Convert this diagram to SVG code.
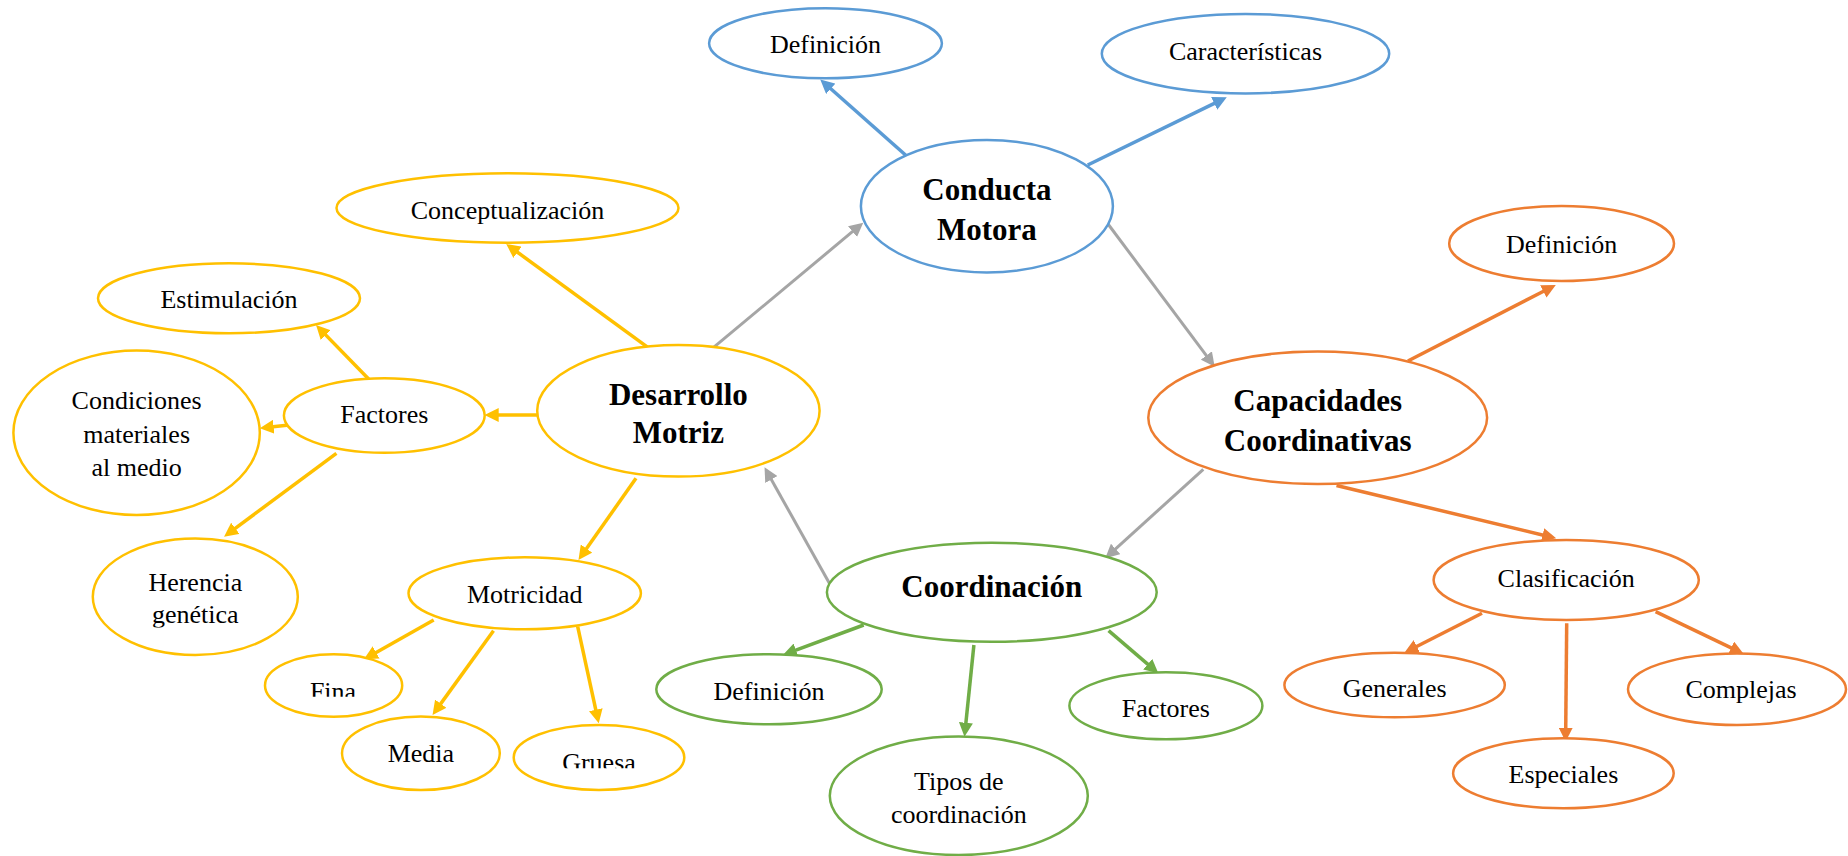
<svg xmlns="http://www.w3.org/2000/svg" width="1848" height="856" viewBox="0 0 1848 856">
<style>
.n{fill:#fff;stroke-width:2.5}
.b{stroke:#5B9BD5}.y{stroke:#FFC000}.g{stroke:#70AD47}.o{stroke:#ED7D31}
.t{font-family:"Liberation Serif","Times New Roman",serif;font-size:26px;fill:#000;text-anchor:middle}
.tb{font-family:"Liberation Serif","Times New Roman",serif;font-size:31px;font-weight:bold;fill:#000;text-anchor:middle}
.c{fill:none;stroke-width:3.5}
.cb{stroke:#5B9BD5;marker-end:url(#mb)}
.cy{stroke:#FFC000;marker-end:url(#my)}
.cg{stroke:#70AD47;marker-end:url(#mg)}
.co{stroke:#ED7D31;marker-end:url(#mo)}
.cx{stroke:#A5A5A5;stroke-width:3;marker-end:url(#mx)}
</style>
<defs>
<marker id="mb" viewBox="0 0 14 14" refX="3" refY="7" markerWidth="14" markerHeight="14" markerUnits="userSpaceOnUse" orient="auto"><path d="M0,0L14,7L0,14z" fill="#5B9BD5"/></marker>
<marker id="my" viewBox="0 0 14 14" refX="3" refY="7" markerWidth="14" markerHeight="14" markerUnits="userSpaceOnUse" orient="auto"><path d="M0,0L14,7L0,14z" fill="#FFC000"/></marker>
<marker id="mg" viewBox="0 0 14 14" refX="3" refY="7" markerWidth="14" markerHeight="14" markerUnits="userSpaceOnUse" orient="auto"><path d="M0,0L14,7L0,14z" fill="#70AD47"/></marker>
<marker id="mo" viewBox="0 0 14 14" refX="3" refY="7" markerWidth="14" markerHeight="14" markerUnits="userSpaceOnUse" orient="auto"><path d="M0,0L14,7L0,14z" fill="#ED7D31"/></marker>
<marker id="mx" viewBox="0 0 14 14" refX="3" refY="7" markerWidth="14" markerHeight="14" markerUnits="userSpaceOnUse" orient="auto"><path d="M0,0L14,7L0,14z" fill="#A5A5A5"/></marker>
<clipPath id="clipFina"><rect x="250" y="640" width="170" height="56.7"/></clipPath>
<clipPath id="clipGruesa"><rect x="500" y="700" width="200" height="68.3"/></clipPath>
<clipPath id="clipGen"><rect x="80" y="530" width="230" height="97.5"/></clipPath>
</defs>
<rect width="1848" height="856" fill="#fff"/>

<g id="connectors">
<line class="c cb" x1="905.5" y1="155" x2="828.5" y2="86.8"/>
<line class="c cb" x1="1087.7" y1="165" x2="1216.9" y2="102.1"/>
<line class="c cx" x1="709.7" y1="350.7" x2="854.8" y2="229.7"/>
<line class="c cx" x1="1108" y1="224" x2="1208.1" y2="357.9"/>
<line class="c cx" x1="1203.3" y1="469.3" x2="1113.4" y2="550.9"/>
<line class="c cx" x1="829.8" y1="584" x2="769.9" y2="476.9"/>
<line class="c cy" x1="649.2" y1="348.3" x2="515.1" y2="250.5"/>
<line class="c cy" x1="369.6" y1="380" x2="323.7" y2="332.9"/>
<line class="c cy" x1="537.2" y1="415" x2="495.7" y2="415"/>
<line class="c cy" x1="289.2" y1="425" x2="270.7" y2="427.1"/>
<line class="c cy" x1="336.4" y1="453.3" x2="232.9" y2="530.1"/>
<line class="c cy" x1="636" y1="478.3" x2="584.8" y2="551"/>
<line class="c cy" x1="433.7" y1="620" x2="373.5" y2="653.9"/>
<line class="c cy" x1="493.5" y1="630.7" x2="439" y2="706.1"/>
<line class="c cy" x1="577.7" y1="626.7" x2="596.4" y2="712.6"/>
<line class="c cg" x1="863.7" y1="625" x2="793.2" y2="651.2"/>
<line class="c cg" x1="973.9" y1="645" x2="965.6" y2="725.8"/>
<line class="c cg" x1="1108.6" y1="630.7" x2="1150" y2="666.2"/>
<line class="c co" x1="1407.9" y1="361" x2="1546" y2="290"/>
<line class="c co" x1="1336.5" y1="485.5" x2="1545.5" y2="535.7"/>
<line class="c co" x1="1482" y1="613.3" x2="1414.2" y2="647.7"/>
<line class="c co" x1="1566.7" y1="623.3" x2="1565.7" y2="730.7"/>
<line class="c co" x1="1655.6" y1="611.7" x2="1733.8" y2="649.2"/>
</g>

<g id="conducta-motora"><ellipse class="n b" cx="986.9" cy="206.2" rx="126" ry="66.2"/><text class="tb" x="986.9" y="200">Conducta</text><text class="tb" x="986.9" y="240">Motora</text></g>
<g id="cm-definicion"><ellipse class="n b" cx="825.5" cy="43.3" rx="116.4" ry="35"/><text class="t" x="825.5" y="53.3">Definición</text></g>
<g id="cm-caracteristicas"><ellipse class="n b" cx="1245.5" cy="53.7" rx="143.7" ry="39.7"/><text class="t" x="1245.5" y="60">Características</text></g>

<g id="desarrollo-motriz"><ellipse class="n y" cx="678.4" cy="410.8" rx="141.2" ry="65.8"/><text class="tb" x="678.4" y="405">Desarrollo</text><text class="tb" x="678.4" y="443.3">Motriz</text></g>
<g id="conceptualizacion"><ellipse class="n y" cx="507.5" cy="208" rx="171" ry="34.7"/><text class="t" x="507.5" y="219.3">Conceptualización</text></g>
<g id="estimulacion"><ellipse class="n y" cx="229" cy="298.3" rx="131" ry="35"/><text class="t" x="229" y="308.3">Estimulación</text></g>
<g id="factores-dm"><ellipse class="n y" cx="384.3" cy="415.5" rx="100.4" ry="37.2"/><text class="t" x="384.3" y="423.3">Factores</text></g>
<g id="condiciones"><ellipse class="n y" cx="136.6" cy="432.8" rx="123.2" ry="82.2"/><text class="t" x="136.6" y="409.3">Condiciones</text><text class="t" x="136.6" y="443.3">materiales</text><text class="t" x="136.6" y="476">al medio</text></g>
<g id="herencia"><ellipse class="n y" cx="195.3" cy="596.7" rx="102.5" ry="58.3"/><text class="t" x="195.3" y="590.7">Herencia</text><text class="t" x="195.3" y="623.3" clip-path="url(#clipGen)">genética</text></g>
<g id="motricidad"><ellipse class="n y" cx="524.7" cy="593.3" rx="116.2" ry="36"/><text class="t" x="524.7" y="602.7">Motricidad</text></g>
<g id="fina"><ellipse class="n y" cx="333.6" cy="685.5" rx="68.6" ry="31.2"/><text class="t" x="333" y="700" clip-path="url(#clipFina)">Fina</text></g>
<g id="media"><ellipse class="n y" cx="420.9" cy="753.3" rx="78.9" ry="36.7"/><text class="t" x="420.9" y="761.7">Media</text></g>
<g id="gruesa"><ellipse class="n y" cx="599" cy="757.5" rx="85.3" ry="32.5"/><text class="t" x="599" y="770.5" clip-path="url(#clipGruesa)">Gruesa</text></g>

<g id="coordinacion"><ellipse class="n g" cx="991.8" cy="592.2" rx="164.9" ry="49.5"/><text class="tb" x="991.8" y="597.3">Coordinación</text></g>
<g id="co-definicion"><ellipse class="n g" cx="769" cy="689.3" rx="112.7" ry="35"/><text class="t" x="769" y="700">Definición</text></g>
<g id="tipos"><ellipse class="n g" cx="958.8" cy="795.8" rx="129" ry="59.2"/><text class="t" x="958.8" y="790">Tipos de</text><text class="t" x="958.8" y="822.7">coordinación</text></g>
<g id="co-factores"><ellipse class="n g" cx="1165.9" cy="705.8" rx="96.5" ry="33.5"/><text class="t" x="1165.9" y="717.3">Factores</text></g>

<g id="capacidades"><ellipse class="n o" cx="1317.7" cy="417.8" rx="169.4" ry="66.2"/><text class="tb" x="1317.7" y="410.7">Capacidades</text><text class="tb" x="1317.7" y="450.7">Coordinativas</text></g>
<g id="cc-definicion"><ellipse class="n o" cx="1561.6" cy="243.5" rx="112.4" ry="37.5"/><text class="t" x="1561.6" y="252.7">Definición</text></g>
<g id="clasificacion"><ellipse class="n o" cx="1566.2" cy="580" rx="132.6" ry="40"/><text class="t" x="1566.2" y="587.3">Clasificación</text></g>
<g id="generales"><ellipse class="n o" cx="1394.6" cy="685" rx="110.2" ry="32.3"/><text class="t" x="1394.6" y="697.3">Generales</text></g>
<g id="especiales"><ellipse class="n o" cx="1563.4" cy="773.3" rx="110.3" ry="35"/><text class="t" x="1563.4" y="783.3">Especiales</text></g>
<g id="complejas"><ellipse class="n o" cx="1737" cy="689.2" rx="109" ry="35.8"/><text class="t" x="1741" y="698.3">Complejas</text></g>
</svg>
